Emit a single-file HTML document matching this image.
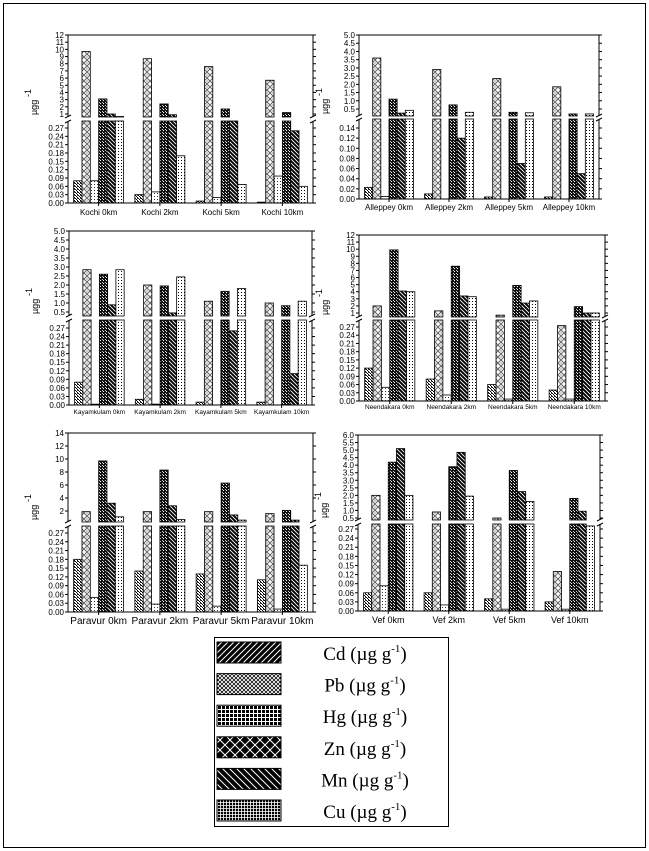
<!DOCTYPE html>
<html><head><meta charset="utf-8">
<style>
html,body{margin:0;padding:0;background:#fff;}
svg{display:block;font-family:"Liberation Sans",sans-serif;}
</style></head>
<body>
<svg id="chart" width="649" height="851" viewBox="0 0 649 851" xmlns="http://www.w3.org/2000/svg">
<defs>
<pattern id="pCd" width="3" height="3" patternUnits="userSpaceOnUse"><rect width="3" height="3" fill="#fff"/><rect x="0" y="0" width="1" height="1" fill="#000"/><rect x="1" y="1" width="1" height="1" fill="#000"/><rect x="2" y="2" width="1" height="1" fill="#000"/><rect x="2" y="0" width="1" height="1" fill="#444"/></pattern>
<pattern id="pPb" width="6" height="6" patternUnits="userSpaceOnUse"><rect width="6" height="6" fill="#fff"/><path d="M3,0L6,3L3,6L0,3Z" fill="none" stroke="#666" stroke-width="1"/><rect x="2.5" y="2.5" width="1" height="1" fill="#444"/></pattern>
<pattern id="pHg" width="3" height="3" patternUnits="userSpaceOnUse"><rect width="3" height="3" fill="#fff"/><rect x="1" y="1" width="1" height="1" fill="#333"/></pattern>
<pattern id="pZn" width="3" height="3" patternUnits="userSpaceOnUse"><rect width="3" height="3" fill="#111"/><rect x="1" y="1" width="1" height="1" fill="#fff"/><rect x="0" y="0" width="1" height="1" fill="#ccc"/></pattern>
<pattern id="pMn" width="4" height="4" patternUnits="userSpaceOnUse"><rect width="4" height="4" fill="#000"/><path d="M0,0L4,4M-1,3L1,5M3,-1L5,1" stroke="#fff" stroke-width="0.9"/></pattern>
<pattern id="pCu" width="3" height="3" patternUnits="userSpaceOnUse"><rect width="3" height="3" fill="#fff"/><rect x="1" y="1" width="1" height="1" fill="#000"/></pattern>
<pattern id="lCd" width="6" height="6" patternUnits="userSpaceOnUse"><rect width="6" height="6" fill="#000"/><path d="M0,6L6,0M-1,1L1,-1M5,7L7,5" stroke="#fff" stroke-width="1"/></pattern>
<pattern id="lPb" width="4" height="4" patternUnits="userSpaceOnUse"><rect width="4" height="4" fill="#000"/><path d="M0,0L4,4M4,0L0,4" stroke="#fff" stroke-width="0.9"/></pattern>
<pattern id="lHg" width="4" height="4" patternUnits="userSpaceOnUse"><rect width="4" height="4" fill="#000"/><path d="M0,1.5H4M1.5,0V4" stroke="#fff" stroke-width="1"/></pattern>
<pattern id="lZn" width="10" height="10" patternUnits="userSpaceOnUse"><rect width="10" height="10" fill="#000"/><path d="M0,0L10,10M10,0L0,10" stroke="#fff" stroke-width="1"/></pattern>
<pattern id="lMn" width="7" height="7" patternUnits="userSpaceOnUse"><rect width="7" height="7" fill="#000"/><path d="M0,0L7,7M-1,6L1,8M6,-1L8,1" stroke="#fff" stroke-width="1"/></pattern>
<pattern id="lCu" width="3" height="3" patternUnits="userSpaceOnUse"><rect width="3" height="3" fill="#000"/><path d="M0,1.5H3M1.5,0V3" stroke="#fff" stroke-width="0.8"/></pattern>
</defs>
<rect x="3.5" y="3.5" width="642" height="844" fill="none" stroke="#000" stroke-width="1"/>
<g id="panels"></g>
<g id="legend"></g>
</svg>
<script>
// ---- data: values [Cd, Pb, Hg, Zn, Mn, Cu] per site ----
const metals = ["Cd","Pb","Hg","Zn","Mn","Cu"];
const kochiSites = ["Kochi 0km","Kochi 2km","Kochi 5km","Kochi 10km"];
const kochiVals = [[0.08,9.7,0.08,3.1,1.0,0.65],[0.03,8.7,0.04,2.4,0.9,0.17],[0.007,7.6,0.02,1.7,0.35,0.067],[0.003,5.7,0.097,1.2,0.26,0.06]];
const alleppeySites = ["Alleppey 0km","Alleppey 2km","Alleppey 5km","Alleppey 10km"];
const alleppeyVals = [[0.023,3.6,0.005,1.1,0.25,0.42],[0.01,2.9,0,0.75,0.12,0.3],[0.004,2.35,0,0.3,0.07,0.27],[0.004,1.85,0,0.2,0.05,0.2]];
const kayamSites = ["Kayamkulam 0km","Kayamkulam 2km","Kayamkulam 5km","Kayamkulam 10km"];
const kayamVals = [[0.08,2.85,0.003,2.6,0.9,2.85],[0.02,2.0,0.003,1.95,0.45,2.45],[0.01,1.1,0,1.65,0.26,1.8],[0.01,1.0,0,0.85,0.11,1.1]];
const neendSites = ["Neendakara 0km","Neendakara 2km","Neendakara 5km","Neendakara 10km"];
const neendVals = [[0.12,2.0,0.05,9.9,4.1,4.0],[0.08,1.3,0.022,7.6,3.4,3.3],[0.06,0.7,0.007,4.9,2.4,2.7],[0.04,0.275,0.007,1.9,1.0,1.0]];
const paravurSites = ["Paravur 0km","Paravur 2km","Paravur 5km","Paravur 10km"];
const paravurVals = [[0.18,1.9,0.05,9.7,3.2,1.1],[0.14,1.9,0.027,8.3,2.8,0.7],[0.13,1.9,0.02,6.3,1.4,0.6],[0.11,1.6,0.01,2.1,0.6,0.16]];
const vefSites = ["Vef 0km","Vef 2km","Vef 5km","Vef 10km"];
const vefVals = [[0.06,2.0,0.083,4.2,5.1,2.0],[0.06,0.9,0.02,3.9,4.85,1.95],[0.04,0.5,0.006,3.65,2.25,1.6],[0.03,0.13,0.006,1.8,0.95,0.28]];
const ticks12 = ["1","2","3","4","5","6","7","8","9","10","11","12"];
const ticks5 = ["0.5","1.0","1.5","2.0","2.5","3.0","3.5","4.0","4.5","5.0"];
const ticks6 = ["0.5","1.0","1.5","2.0","2.5","3.0","3.5","4.0","4.5","5.0","5.5","6.0"];
const ticks14 = ["2","4","6","8","10","12","14"];
const lowTicks27 = ["0.00","0.03","0.06","0.09","0.12","0.15","0.18","0.21","0.24","0.27"];
const lowTicks14 = ["0.00","0.02","0.04","0.06","0.08","0.10","0.12","0.14"];

const NS = "http://www.w3.org/2000/svg";
function mk(tag, attrs, parent){const e=document.createElementNS(NS,tag);for(const k in attrs)e.setAttribute(k,attrs[k]);parent.appendChild(e);return e;}
const root = document.getElementById("panels");

function panel(name, g, sites, vals, upTicks, lowTicks){
  const grp = mk("g",{},root);
  
  
  const lk = (g.yB-g.lRefY)/g.lRef;
  const yLow = v => g.yB - v*lk;
  const uk = (g.uRefY-g.yT)/(g.uMax-g.uRef);
  const yUp = v => g.yT + (g.uMax - v)*uk;
  const lowerMax = (g.yB-g.yLT)/lk;
  const gw = (g.xR-g.xL)/4, bw = gw*0.136;
  const pats = ["pCd","pPb","pHg","pZn","pMn","pCu"];
  for(let i=0;i<4;i++){
    for(let j=0;j<6;j++){
      const v = vals[i][j];
      if(!(v>0)) continue;
      const x = g.xL + gw*i + (gw-6*bw)/2 + j*bw;
      const top = Math.max(yLow(v), g.yLT);
      const r = mk("rect",{x:x.toFixed(2),y:top.toFixed(2),width:bw.toFixed(2),height:(g.yB-top).toFixed(2),fill:"url(#"+pats[j]+")",stroke:"#000","stroke-width":"0.8"},grp);
      
      
      if(v>lowerMax){
        const yt = yUp(v);
        if(yt < g.yUB){
          const r2 = mk("rect",{x:x.toFixed(2),y:yt.toFixed(2),width:bw.toFixed(2),height:(g.yUB-yt).toFixed(2),fill:"url(#"+pats[j]+")",stroke:"#000","stroke-width":"0.8"},grp);
          
          
        }
      }
    }
    const cx = g.xL + gw*(i+0.5);
    mk("line",{x1:cx,y1:g.yB,x2:cx,y2:g.yB+3,stroke:"#000"},grp);
    const t = mk("text",{x:cx,y:g.yB+g.lblDy,"text-anchor":"middle","font-size":g.lblFs},grp);
    t.textContent = sites[i];
    
    
  }
  const st={stroke:"#000","stroke-width":"1",fill:"none"};
  mk("path",Object.assign({d:`M${g.xL},${g.yUB}V${g.yT}H${g.xR}V${g.yUB}M${g.xL},${g.yLT}V${g.yB}H${g.xR}V${g.yLT}`},st),grp);
  [g.xL,g.xR].forEach(x=>{
    mk("path",Object.assign({d:`M${x-3},${g.yUB+1}L${x+3},${g.yUB-2}M${x-3},${g.yLT+2}L${x+3},${g.yLT-1}`},st),grp);
  });
  upTicks.forEach(s=>{
    const y = yUp(parseFloat(s));
    mk("line",{x1:g.xL-3,y1:y,x2:g.xL,y2:y,stroke:"#000"},grp);
    mk("line",{x1:g.xR,y1:y,x2:g.xR+3,y2:y,stroke:"#000"},grp);
    const t = mk("text",{x:g.xL-4,y:y+3,"text-anchor":"end","font-size":"8"},grp);
    t.textContent = s;
    
    
  });
  lowTicks.forEach(s=>{
    const y = yLow(parseFloat(s));
    mk("line",{x1:g.xL-3,y1:y,x2:g.xL,y2:y,stroke:"#000"},grp);
    mk("line",{x1:g.xR,y1:y,x2:g.xR+3,y2:y,stroke:"#000"},grp);
    const t = mk("text",{x:g.xL-4,y:y+3,"text-anchor":"end","font-size":"8"},grp);
    t.textContent = s;
    
    
  });
  const tx = g.xL-31, ty = g.yUB-2;
  const yt = mk("text",{x:0,y:0,transform:`translate(${tx},${ty}) rotate(-90)`,"font-size":"9"},grp);
  yt.textContent = "µgg";
  
  
  const sup = mk("text",{x:0,y:0,transform:`translate(${tx-6},${ty-18}) rotate(-90)`,"font-size":"9"},grp);
  sup.textContent = "-1";
  
  
}

panel("kochi",{xL:68,xR:313,yT:35,yUB:117,yLT:121,yB:203,uMax:12,uRef:1,uRefY:114,lRef:0.27,lRefY:128,lblDy:12,lblFs:8},kochiSites,kochiVals,ticks12,lowTicks27);
panel("alleppey",{xL:359,xR:599,yT:35,yUB:116,yLT:119,yB:199,uMax:5,uRef:0.5,uRefY:109,lRef:0.14,lRefY:128,lblDy:11,lblFs:8},alleppeySites,alleppeyVals,ticks5,lowTicks14);
panel("kayamkulam",{xL:69,xR:312,yT:231,yUB:316,yLT:320,yB:405,uMax:5,uRef:0.5,uRefY:312,lRef:0.27,lRefY:328,lblDy:9,lblFs:6.5},kayamSites,kayamVals,ticks5,lowTicks27);
panel("neendakara",{xL:359,xR:605,yT:235,yUB:317,yLT:320,yB:401,uMax:12,uRef:1,uRefY:313,lRef:0.27,lRefY:327,lblDy:8,lblFs:6.5},neendSites,neendVals,ticks12,lowTicks27);
panel("paravur",{xL:68,xR:313,yT:433,yUB:522,yLT:526,yB:612,uMax:14,uRef:2,uRefY:511,lRef:0.27,lRefY:533,lblDy:12,lblFs:10},paravurSites,paravurVals,ticks14,lowTicks27);
panel("vef",{xL:358,xR:600,yT:435,yUB:520,yLT:524,yB:611,uMax:6,uRef:0.5,uRefY:518,lRef:0.27,lRefY:529,lblDy:12,lblFs:9},vefSites,vefVals,ticks6,lowTicks27);

const lg = document.getElementById("legend");
mk("rect",{x:214.5,y:637.5,width:234,height:189,fill:"#fff",stroke:"#000","stroke-width":"1"},lg);
const lpats = ["lCd","lPb","lHg","lZn","lMn","lCu"];
metals.forEach((m,i)=>{
  const y = 642 + i*31.6;
  const sw = mk("rect",{x:217,y:y,width:64,height:21,fill:"url(#"+lpats[i]+")",stroke:"#000"},lg);
  
  
  const t = mk("text",{x:365,y:y+18,"text-anchor":"middle","font-size":"19","font-family":"Liberation Serif, serif"},lg);
  t.innerHTML = m+" (µg g<tspan font-size='11' dy='-8'>-1</tspan><tspan dy='8'>)</tspan>";
  
  
});
</script>
</body></html>
